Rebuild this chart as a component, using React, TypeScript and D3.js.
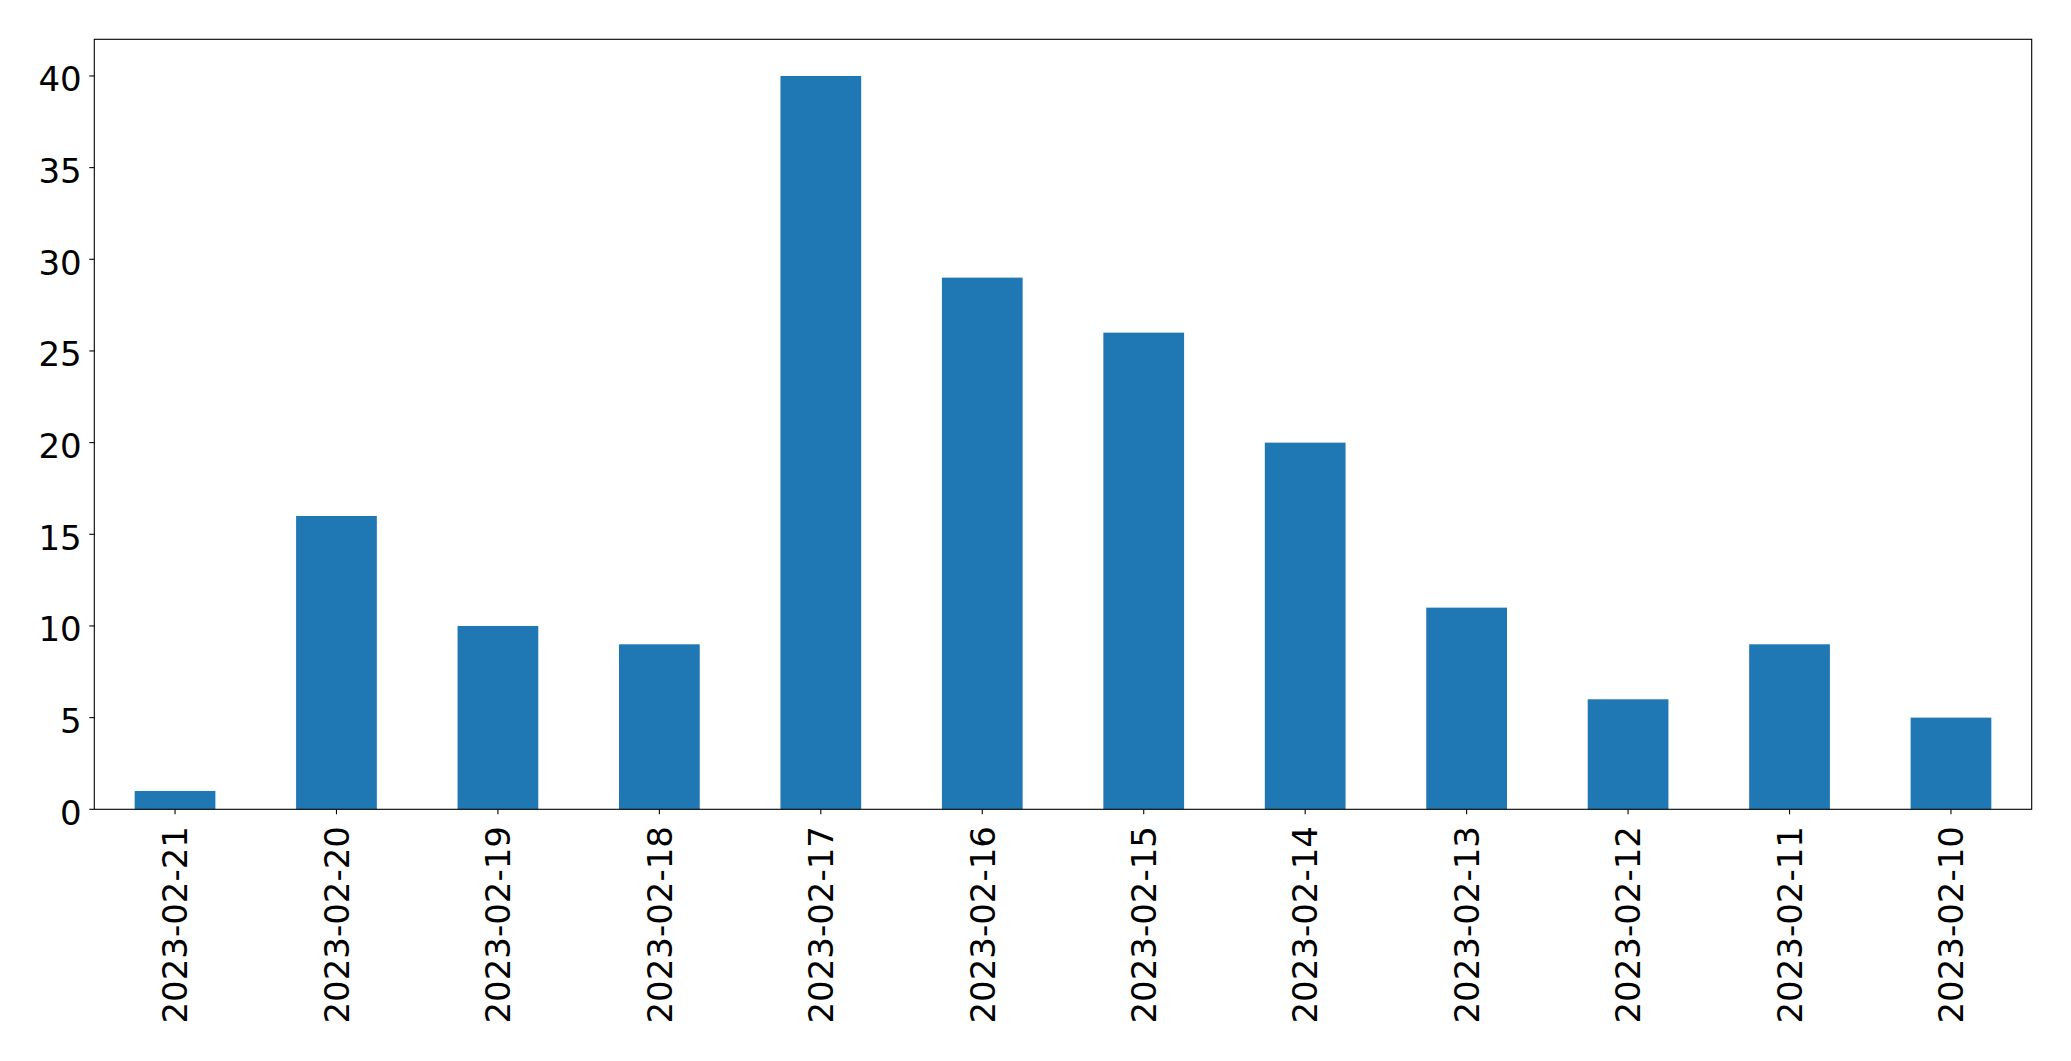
import React from "react";
import * as d3 from "d3";

const categories = [
  "2023-02-21", "2023-02-20", "2023-02-19", "2023-02-18", "2023-02-17", "2023-02-16",
  "2023-02-15", "2023-02-14", "2023-02-13", "2023-02-12", "2023-02-11", "2023-02-10",
];
const counts = [1, 16, 10, 9, 40, 29, 26, 20, 11, 6, 9, 5];
const yTicks = [0, 5, 10, 15, 20, 25, 30, 35, 40];

const W = 2071;
const H = 1061;
const left = 94.3;
const right = 2031.7;
const top = 39.3;
const bottom = 809.3;
const FONT = "DejaVu Sans";
const FS = 34;

export default function App() {
  const x = d3
    .scaleLinear()
    .domain([-0.5, categories.length - 0.5])
    .range([left, right]);
  const y = d3.scaleLinear().domain([0, 42]).range([bottom, top]);
  const bw = x(0.25) - x(-0.25);

  return (
    <svg
      width={W}
      height={H}
      style={{ position: "fixed", left: 0, top: 0, display: "block", background: "#fff" }}
      fontFamily={FONT}
    >
      <rect x={0} y={0} width={W} height={H} fill="#fff" />
      {counts.map((v, i) => (
        <rect
          key={i}
          x={x(i) - bw / 2}
          y={y(v)}
          width={bw}
          height={y(0) - y(v)}
          fill="#1f77b4"
        />
      ))}
      <rect
        x={left}
        y={top}
        width={right - left}
        height={bottom - top}
        fill="none"
        stroke="#000"
        strokeWidth={1.1}
      />
      {yTicks.map((t) => (
        <g key={t}>
          <line x1={left - 5} x2={left} y1={y(t)} y2={y(t)} stroke="#000" strokeWidth={1.1} />
          <text
            x={81.7}
            y={y(t)}
            dy="0.45em"
            textAnchor="end"
            fontSize={FS}
            fill="#000"
          >
            {t}
          </text>
        </g>
      ))}
      {categories.map((c, i) => (
        <g key={c}>
          <line x1={x(i)} x2={x(i)} y1={bottom} y2={bottom + 5} stroke="#000" strokeWidth={1.1} />
          <text
            transform={`translate(${x(i)},826) rotate(-90)`}
            textAnchor="end"
            dy="0.36em"
            fontSize={FS}
            fill="#000"
          >
            {c}
          </text>
        </g>
      ))}
    </svg>
  );
}
